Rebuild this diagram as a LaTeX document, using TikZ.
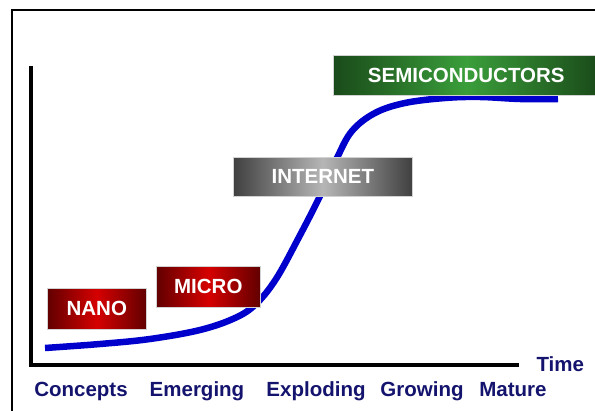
\documentclass[tikz,border=0pt]{standalone}
\usepackage{fontspec}
\setmainfont{Liberation Sans}
\usetikzlibrary{positioning}
\definecolor{curveBlue}{HTML}{0000CC}
\definecolor{labelNavy}{HTML}{14146E}
\definecolor{nanoDark}{HTML}{620000}
\definecolor{nanoLight}{HTML}{D60000}
\definecolor{netDark}{HTML}{404040}
\definecolor{netLight}{HTML}{B6B6B6}
\definecolor{semiDark}{HTML}{1A4A1A}
\definecolor{semiLight}{HTML}{3A9E3A}
\tikzset{
  axisLine/.style={line width=4pt, black, line join=miter},
  stageBox/.style={rectangle, draw=gray!35, line width=0.6pt, text=white,
                   font=\bfseries\fontsize{20.5}{24}\selectfont, inner sep=0pt,
                   anchor=north west},
  boxRed/.style={stageBox, left color=nanoDark, right color=nanoDark, middle color=nanoLight},
  boxGray/.style={stageBox, left color=netDark, right color=netDark, middle color=netLight},
  boxGreen/.style={stageBox, left color=semiDark, right color=semiDark, middle color=semiLight},
  phaseLabel/.style={text=labelNavy, font=\bfseries\fontsize{20.5}{24}\selectfont, anchor=base},
}
\begin{document}
\begin{tikzpicture}[x=1pt, y=-1pt]
    \useasboundingbox (0,0) rectangle (595,411);
    %% outer frame (cut off right and bottom)
    \draw[line width=2pt] (12,420) -- (12,10) -- (605,10);

    %% axes
    \coordinate (ytop) at (31,66);
    \coordinate (origin) at (31,365);
    \coordinate (xend) at (519,365);
    \draw[axisLine] (ytop) -- (origin) -- (xend);

    %% S-curve
    \draw[curveBlue, line width=6.5pt] plot[smooth, tension=0.6] coordinates {
      (45,348) (100,344) (150,339) (200,330) (235,318) (256,304) (276,279)
      (298,239) (320,196) (337,158) (352,131) (375,113) (405,103) (445,98)
      (480,97) (520,99) (558,99)};

    %% stage boxes
    \node[boxRed, minimum width=99pt, minimum height=41pt] (nano) at (47,288) {NANO};
    \node[boxRed, minimum width=104pt, minimum height=41pt] (micro) at (156,266) {MICRO};
    \node[boxGray, minimum width=179pt, minimum height=39pt] (net) at (233,157) {INTERNET};
    \node[boxGreen, minimum width=266pt, minimum height=40pt] (semi) at (333,55) {SEMICONDUCTORS};

    %% phase labels
    \node[phaseLabel] (concepts) at (81,397) {Concepts};
    \node[phaseLabel] (emerging) at (197,397) {Emerging};
    \node[phaseLabel] (exploding) at (316,397) {Exploding};
    \node[phaseLabel] (growing) at (422,397) {Growing};
    \node[phaseLabel] (mature) at (513,397) {Mature};
    \node[phaseLabel, anchor=base west] (time) at (533,372) {Time};
\end{tikzpicture}
\end{document}
